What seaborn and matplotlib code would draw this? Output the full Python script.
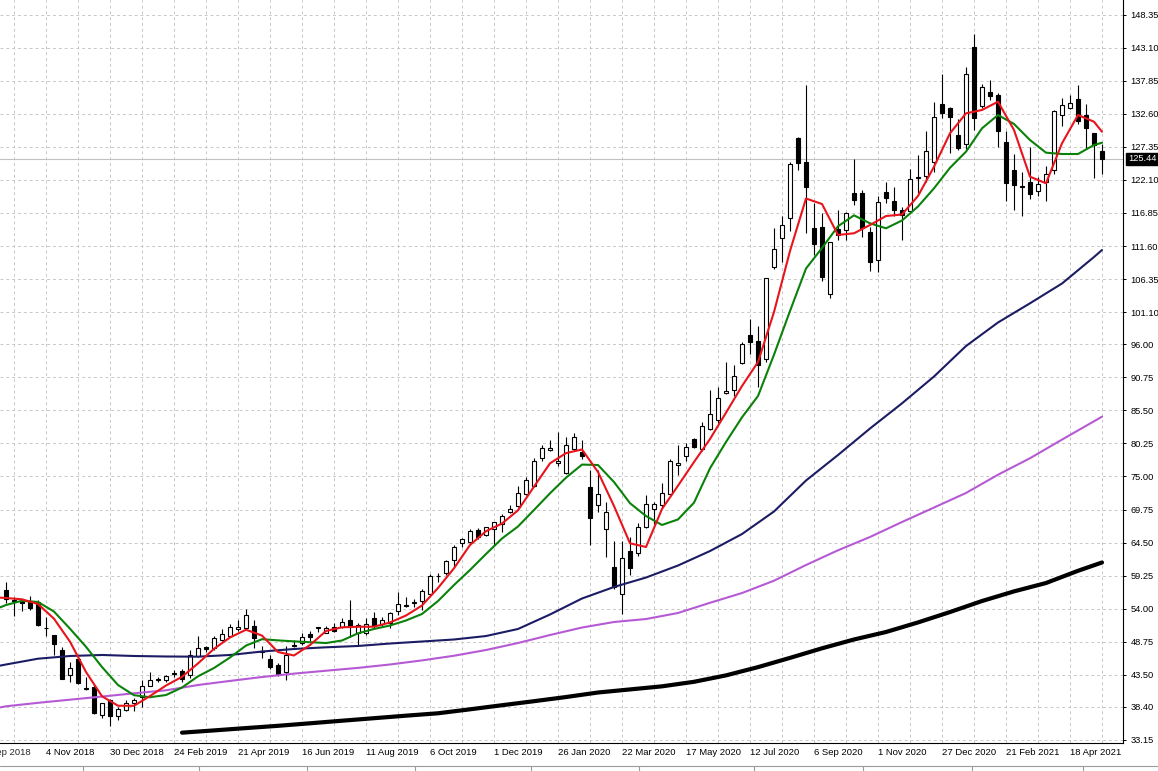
import numpy as np
import pandas as pd
import matplotlib
matplotlib.use("Agg")
import matplotlib.pyplot as plt
import matplotlib.transforms as mtransforms
from matplotlib.lines import Line2D
import seaborn as sns

sns.set_style("white")
plt.rcParams['font.family'] = ['Liberation Sans', 'DejaVu Sans']

# weekly candles, bar 0 = week of 30 Sep 2018, last bar = 16 May 2021
opens = [56.9, 55.4, 55.2, 55.2, 55.1, 51.0, 49.8, 47.5, 43.5, 46.0,
         41.4, 41.6, 37.1, 39.5, 37.0, 37.9, 39.1, 39.9, 41.8, 42.75,
         42.6, 43.65, 44.1, 43.5, 46.5, 47.9, 47.7, 49.1, 49.7, 50.7,
         51.0, 51.3, 47.3, 45.95, 45.0, 44.0, 48.2, 48.5, 50.0, 51.0,
         50.2, 51.05, 51.05, 52.2, 50.1, 50.2, 52.6, 51.6, 51.7, 53.7,
         54.6, 54.9, 55.3, 56.4, 59.15, 59.6, 61.8, 64.4, 64.6, 66.5,
         65.7, 66.6, 67.5, 69.3, 70.3, 72.2, 73.5, 78.0, 79.2, 77.1,
         75.6, 79.3, 78.9, 73.4, 70.5, 66.6, 60.7, 56.3, 63.2, 62.8,
         67.0, 69.8, 70.5, 72.2, 76.9, 78.3, 80.9, 79.3, 82.6, 83.9,
         88.2, 88.7, 93.0, 97.5, 96.5, 93.6, 108.2, 112.8, 116.0, 128.7,
         124.9, 114.4, 114.6, 104.0, 114.3, 114.2, 120.1, 120.0, 113.9, 109.4,
         120.2, 118.7, 117.3, 117.1, 122.4, 122.7, 125.0, 134.1, 133.6, 129.2,
         127.8, 143.2, 133.85, 136.1, 135.6, 128.2, 123.7, 121.15, 121.7, 120.4,
         121.7, 123.7, 132.4, 133.6, 134.9, 132.4, 129.5, 126.75]
highs = [58.3, 55.8, 55.6, 56.0, 55.4, 52.7, 49.9, 47.9, 45.6, 46.3,
         43.1, 42.0, 39.1, 39.7, 38.4, 39.5, 39.8, 42.6, 43.9, 43.2,
         43.5, 44.2, 44.4, 47.4, 49.6, 48.1, 49.7, 50.7, 51.5, 52.2,
         53.9, 52.2, 48.0, 46.6, 45.3, 48.0, 49.0, 50.2, 50.5, 51.15,
         51.3, 51.7, 52.5, 55.4, 51.7, 52.5, 53.5, 52.7, 53.5, 56.7,
         55.9, 55.6, 57.2, 59.5, 59.6, 61.7, 64.1, 65.3, 66.6, 66.8,
         67.0, 67.8, 69.1, 70.5, 73.5, 74.97, 77.9, 80.0, 80.8, 82.1,
         81.3, 81.85, 80.8, 76.0, 76.0, 71.0, 64.8, 64.8, 65.4, 67.6,
         72.1, 70.9, 73.9, 77.7, 80.0, 80.3, 81.1, 83.7, 88.7, 89.2,
         93.2, 92.7, 96.3, 100.0, 98.9, 106.5, 114.4, 116.3, 125.0, 128.97,
         137.2, 118.4, 116.8, 112.3, 117.4, 117.06, 125.4, 120.5, 114.7, 119.6,
         121.7, 121.0, 117.8, 123.9, 126.0, 129.8, 134.5, 138.9, 133.7, 131.7,
         140.1, 145.3, 137.4, 137.96, 135.96, 129.9, 126.2, 123.4, 127.4, 122.6,
         124.3, 133.2, 135.1, 135.6, 137.2, 134.2, 129.6, 127.8]
lows = [54.9, 52.9, 53.7, 53.8, 51.2, 49.7, 46.6, 42.8, 42.4, 42.0,
        41.1, 37.3, 36.6, 35.4, 36.4, 37.8, 37.8, 38.4, 41.7, 42.4,
        42.4, 43.1, 42.4, 43.0, 46.4, 47.2, 47.4, 48.8, 49.6, 50.5,
        50.9, 47.7, 46.1, 44.4, 43.3, 42.6, 47.9, 48.2, 48.8, 50.35,
        50.1, 50.35, 50.95, 49.5, 48.2, 49.9, 50.8, 51.3, 50.9, 53.0,
        54.3, 54.2, 53.8, 56.2, 58.3, 59.4, 60.7, 63.85, 64.5, 65.0,
        65.5, 64.0, 66.2, 69.2, 70.1, 72.0, 73.3, 77.4, 79.0, 76.6,
        75.4, 79.1, 77.7, 64.1, 69.4, 62.2, 57.1, 53.2, 59.4, 62.3,
        66.8, 67.5, 70.0, 72.0, 75.2, 77.5, 79.5, 79.0, 82.4, 83.5,
        88.1, 87.8, 92.8, 94.5, 89.2, 93.25, 108.0, 109.1, 114.0, 123.6,
        113.7, 110.2, 106.1, 103.3, 112.6, 112.6, 118.1, 113.0, 107.7, 107.5,
        118.5, 116.3, 112.6, 116.8, 120.1, 121.7, 123.4, 131.9, 126.4, 126.9,
        127.0, 130.1, 133.5, 134.8, 127.4, 118.7, 117.4, 116.3, 119.0, 119.55,
        118.8, 123.0, 130.7, 133.4, 131.0, 127.1, 122.35, 123.0]
closes = [55.6, 55.3, 54.9, 54.1, 51.4, 50.9, 48.4, 42.9, 44.6, 42.2,
          41.3, 37.5, 39.0, 37.0, 38.0, 39.1, 39.5, 41.7, 42.7, 42.85,
          43.3, 43.75, 42.8, 46.6, 47.7, 47.6, 49.3, 50.0, 51.1, 51.1,
          53.0, 49.3, 47.2, 44.7, 43.7, 46.6, 48.1, 49.55, 49.45, 51.05,
          51.0, 50.5, 51.95, 51.05, 51.4, 51.6, 51.2, 52.2, 53.3, 54.75,
          54.5, 55.0, 56.8, 59.2, 59.25, 61.6, 63.85, 65.0, 66.4, 65.4,
          66.9, 67.7, 68.7, 69.9, 72.4, 74.4, 77.5, 79.6, 79.6, 77.5,
          80.0, 81.2, 78.25, 68.35, 72.2, 69.4, 57.5, 62.0, 60.4, 66.9,
          70.7, 70.7, 72.3, 77.5, 77.1, 79.7, 79.7, 83.0, 84.9, 87.5,
          88.6, 91.0, 96.05, 96.3, 92.7, 106.5, 111.1, 114.9, 124.6, 124.8,
          121.0, 112.0, 106.7, 112.3, 113.3, 116.9, 118.9, 114.4, 109.1, 118.6,
          119.3, 117.4, 116.5, 122.2, 122.6, 126.75, 132.05, 132.7, 132.05, 127.1,
          139.0, 131.9, 136.8, 135.4, 129.8, 121.6, 121.3, 121.05, 119.9, 121.5,
          123.05, 133.1, 134.0, 134.4, 131.5, 130.3, 127.65, 125.44]

# moving averages (bar index -> value)
fast_bars = [-1, 0] + list(range(2, 137, 2)) + [137]
ma_red = [55.78, 55.70, 55.49, 54.75, 52.41, 48.76, 43.95, 40.09, 38.59, 38.58,
          40.13, 41.80, 43.18, 45.31, 47.63, 49.43, 50.66, 49.73, 47.12, 46.57,
          48.23, 50.46, 51.05, 51.13, 51.14, 51.81, 52.92, 54.51, 57.29, 60.42,
          64.12, 66.31, 67.53, 69.63, 73.39, 77.09, 78.71, 79.29, 75.71, 70.31,
          64.39, 63.80, 69.84, 73.54, 77.30, 80.95, 85.13, 89.37, 93.18, 101.12,
          110.81, 119.15, 118.28, 113.36, 113.63, 114.94, 116.37, 116.61, 119.55, 124.20,
          129.51, 132.68, 133.21, 134.53, 130.03, 122.61, 121.57, 127.92, 132.41, 131.35,
          129.76]
ma_green = [54.08, 54.59, 55.26, 55.07, 53.55, 50.82, 47.95, 44.74, 41.88, 40.26,
            39.94, 40.29, 41.48, 43.26, 44.58, 46.25, 48.14, 49.16, 48.97, 48.81,
            48.68, 48.55, 48.95, 50.09, 50.78, 51.33, 52.13, 53.16, 55.22, 57.76,
            60.15, 62.69, 65.15, 67.06, 69.68, 72.33, 74.81, 76.89, 76.82, 74.12,
            70.76, 68.72, 67.30, 68.18, 70.84, 76.30, 80.48, 84.40, 87.78, 94.34,
            101.28, 108.03, 111.29, 114.74, 116.48, 115.21, 114.42, 115.66, 117.88, 120.77,
            124.03, 126.59, 130.30, 132.41, 130.99, 128.44, 126.43, 126.22, 126.22, 127.65,
            128.01]
slow_bars = [-1, 0] + list(range(4, 137, 4)) + [137]
ma_navy = [44.90, 45.14, 46.06, 46.49, 46.65, 46.49, 46.41, 46.38, 46.65, 47.20,
           47.60, 47.87, 48.08, 48.47, 48.79, 49.11, 49.66, 50.78, 53.08, 55.62,
           57.45, 58.95, 60.86, 63.16, 65.86, 69.44, 74.36, 78.41, 82.62, 86.62,
           90.88, 95.72, 99.46, 102.51, 105.65, 109.86, 110.97]
ma_violet = [38.26, 38.50, 39.05, 39.55, 40.05, 40.56, 41.04, 41.88, 42.53, 43.15,
             43.69, 44.15, 44.60, 45.14, 45.79, 46.53, 47.44, 48.55, 49.82, 51.01,
             51.89, 52.36, 53.32, 54.94, 56.49, 58.45, 60.94, 63.28, 65.39, 67.77,
             70.07, 72.38, 75.28, 77.90, 80.86, 83.77, 84.50]
long_bars = list(range(22, 135, 4)) + [137]
ma_black = [34.31, 34.67, 35.04, 35.40, 35.80, 36.21, 36.61, 37.01, 37.39, 38.02,
            38.67, 39.31, 39.97, 40.69, 41.18, 41.67, 42.39, 43.41, 44.72, 46.19,
            47.71, 49.11, 50.30, 51.82, 53.47, 55.22, 56.75, 58.08, 60.02, 61.34]

last_price = 125.44
price_ticks = [33.15, 38.40, 43.50, 48.75, 54.00, 59.25, 64.50, 69.75, 75.00, 80.25,
               85.50, 90.75, 96.00, 101.10, 106.35, 111.60, 116.85, 122.10, 127.35,
               132.60, 137.85, 143.10, 148.35]
date_labels = ['9 Sep 2018', '4 Nov 2018', '30 Dec 2018', '24 Feb 2019', '21 Apr 2019',
               '16 Jun 2019', '11 Aug 2019', '6 Oct 2019', '1 Dec 2019', '26 Jan 2020',
               '22 Mar 2020', '17 May 2020', '12 Jul 2020', '6 Sep 2020', '1 Nov 2020',
               '27 Dec 2020', '21 Feb 2021', '18 Apr 2021']
label_bars = [-3 + 8 * k for k in range(len(date_labels))]
grid_bars = list(range(1, 138, 4))

W, H = 1158, 771
fig = plt.figure(figsize=(W / 100, H / 100), dpi=100)
ax = fig.add_axes([0, 28 / H, 1123 / W, 743 / H])

df = pd.DataFrame({'bar': np.arange(len(opens)), 'open': opens, 'high': highs,
                   'low': lows, 'close': closes})
bull = df['close'] >= df['open']
body_lo = df[['open', 'close']].min(axis=1)
body_h = (df['close'] - df['open']).abs().clip(lower=0.05)

ax.axhline(last_price, color='#c0c0c0', lw=0.8, zorder=1)
ax.vlines(df['bar'], df['low'], df['high'], color='black', lw=0.8, zorder=2)
ax.bar(df['bar'], body_h, bottom=body_lo, width=0.62,
       color=np.where(bull, 'white', 'black'), edgecolor='black', linewidth=0.8, zorder=3)

sns.lineplot(x=long_bars, y=ma_black, ax=ax, color='black', linewidth=3.0, zorder=4)
sns.lineplot(x=slow_bars, y=ma_violet, ax=ax, color='#b65ad4', linewidth=1.5, zorder=4)
sns.lineplot(x=slow_bars, y=ma_navy, ax=ax, color='#1c1c64', linewidth=1.5, zorder=4)
sns.lineplot(x=fast_bars, y=ma_green, ax=ax, color='#0a820a', linewidth=1.5, zorder=5)
sns.lineplot(x=fast_bars, y=ma_red, ax=ax, color='#e8141c', linewidth=1.5, zorder=6)

ax.set_xlim(-0.75, 139.625)
ax.set_ylim(32.67, 150.68)

grid_kw = dict(color='#c8c8c8', linestyle=(0, (3, 3)), linewidth=0.7)
ax.yaxis.tick_right()
ax.set_yticks(price_ticks)
ax.set_yticklabels([f"{v:.2f}" for v in price_ticks])
ax.set_xticks(label_bars[1:])
ax.set_xticklabels(date_labels[1:], ha='left')
ax.set_xticks(grid_bars, minor=True)
ax.grid(True, axis='y', **grid_kw)
ax.grid(True, axis='x', which='both', **grid_kw)
ax.set_axisbelow(True)
ax.tick_params(axis='y', which='major', direction='out', length=2.5, width=0.7,
               pad=2.8, labelsize=6.7, colors='black')
ax.tick_params(axis='x', which='major', direction='out', length=2.2, width=0.7,
               pad=1.5, labelsize=6.8, colors='black')
ax.tick_params(axis='x', which='minor', length=0)
ax.set_xlabel('')
ax.set_ylabel('')

for s in ['left', 'top']:
    ax.spines[s].set_visible(False)
for s in ['right', 'bottom']:
    ax.spines[s].set_color('black')
    ax.spines[s].set_linewidth(0.8)

# first date label falls left of the window and is cut off
xtrans = mtransforms.blended_transform_factory(ax.transData, ax.transAxes)
ax.text(label_bars[0], -0.0063, date_labels[0], transform=xtrans, ha='left', va='top',
        fontsize=6.8, clip_on=False)

# current price box on the scale
ytrans = mtransforms.blended_transform_factory(ax.transAxes, ax.transData)
ax.text(1.0045, last_price, f"{last_price:.2f}", transform=ytrans, ha='left',
        va='center', fontsize=6.7, color='white', clip_on=False,
        bbox=dict(boxstyle='square,pad=0.18', fc='black', ec='black'))

# window tab strip at the very bottom
ytab = 5 / H
fig.add_artist(Line2D([0, 1], [ytab, ytab], transform=fig.transFigure,
                      color='#9a9a9a', lw=0.8))
for xs in [83, 199, 307, 415, 531, 639, 754, 863, 972, 1083]:
    fig.add_artist(Line2D([xs / W, xs / W], [0, ytab], transform=fig.transFigure,
                          color='#9a9a9a', lw=0.8))

fig.savefig('out.png', dpi=100)
